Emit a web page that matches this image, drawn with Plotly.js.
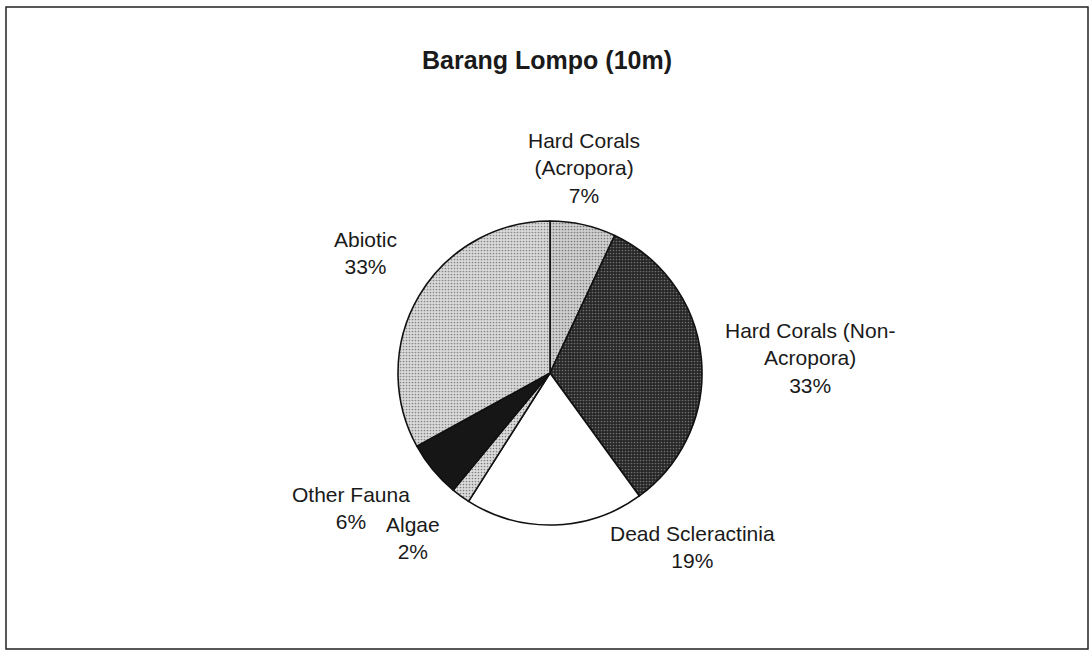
<!DOCTYPE html>
<html>
<head>
<meta charset="utf-8">
<script src="https://cdn.plot.ly/plotly-3.0.1.min.js"></script>
<style>html,body{margin:0;padding:0;background:#fff;}#chart{width:1091px;height:656px;}</style>
</head>
<body>
<div id="chart"></div>
<script>
const categories = ["Hard Corals (Acropora)", "Hard Corals (Non-Acropora)", "Dead Scleractinia", "Algae", "Other Fauna", "Abiotic"];
const labelText = ["Hard Corals<br>(Acropora)", "Hard Corals (Non-<br>Acropora)", "Dead Scleractinia", "Algae", "Other Fauna", "Abiotic"];
const values = [7, 33, 19, 2, 6, 33];
const chartTitle = "Barang Lompo (10m)";

// styles (not data)
const sliceColors = ["#d0d0d0", "#262626", "#ffffff", "#dcdcdc", "#161616", "#dadada"];
const patternShapes = [".", ".", "", ".", "", "."];
const patternFg = ["#7a7a7a", "#707070", "#000", "#808080", "#000", "#858585"];
const W = 1091, H = 656;
// label block centres in pixels [x, y]
const labelPos = [[584, 168], [810, 358], [692, 547], [413, 538], [351, 508], [365, 253]];

const total = values.reduce((a, b) => a + b, 0);

const trace = {
  type: "pie",
  labels: categories,
  values: values,
  sort: false,
  direction: "clockwise",
  rotation: 0,
  textinfo: "none",
  automargin: false,
  marker: {
    colors: sliceColors,
    line: {color: "#111", width: 1.6},
    pattern: {shape: patternShapes, fgcolor: patternFg, bgcolor: sliceColors, size: 3, solidity: 0.25, fillmode: "replace"}
  },
  domain: {x: [(550 - 152) / W, (550 + 152) / W], y: [1 - (373 + 152) / H, 1 - (373 - 152) / H]},
  hoverinfo: "label+percent",
  showlegend: false
};

const annotations = categories.map((c, i) => ({
  xref: "paper", yref: "paper",
  x: labelPos[i][0] / W, y: 1 - labelPos[i][1] / H,
  xanchor: "center", yanchor: "middle", align: "center",
  showarrow: false,
  text: labelText[i] + "<br>" + Math.round(values[i] / total * 100) + "%",
  font: {family: "Liberation Sans, Arial, sans-serif", size: 21, color: "#1a1a1a"}
}));

const layout = {
  width: W, height: H,
  margin: {l: 0, r: 0, t: 0, b: 0},
  paper_bgcolor: "#fff",
  showlegend: false,
  title: {text: "<b>" + chartTitle + "</b>", x: 547 / W, xanchor: "center", y: 1 - 60 / H, yanchor: "middle", yref: "container",
          font: {family: "Liberation Sans, Arial, sans-serif", size: 25, color: "#1a1a1a"}},
  annotations: annotations,
  shapes: [{type: "rect", xref: "paper", yref: "paper", x0: 6 / W, x1: 1088 / W, y0: 1 - 649 / H, y1: 1 - 7 / H,
            line: {color: "#222", width: 1.5}}]
};

Plotly.newPlot("chart", [trace], layout, {staticPlot: true});
</script>
</body>
</html>
